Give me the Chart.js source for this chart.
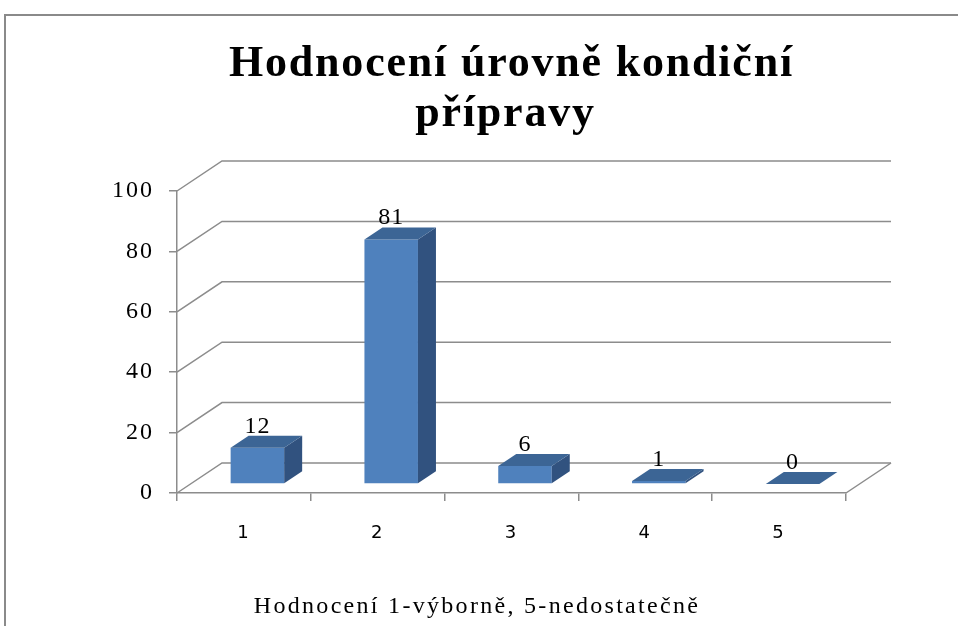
<!DOCTYPE html>
<html>
<head>
<meta charset="utf-8">
<script src="https://cdn.jsdelivr.net/npm/chart.js@4/dist/chart.umd.min.js"></script>
<style>
  html, body { margin: 0; padding: 0; background: #fff; }
  #wrap { position: relative; width: 958px; height: 626px; }
  #frame { position: absolute; left: 4px; top: 14px; width: 960px; height: 620px;
           border-left: 2px solid #8a8a8a; border-top: 2px solid #8a8a8a; }
  canvas { position: absolute; left: 0; top: 0; }
</style>
</head>
<body>
<div id="wrap">
  <div id="frame"></div>
  <canvas id="kondice" width="958" height="626"></canvas>
</div>
<script>
// data
const categories = ['1', '2', '3', '4', '5'];
const counts = [12, 81, 6, 1, 0];
const yTicks = [0, 20, 40, 60, 80, 100];

const chartTitle = ['Hodnocení úrovně kondiční', 'přípravy'];
const axisTitle = 'Hodnocení 1-výborně, 5-nedostatečně';

// 3D look (Excel style)
const depth = { dx: 45, dy: -30 };      // floor / back wall offset
const barFront = 0.3, barBack = 0.7;     // bar position within depth
const gridGray = '#8c8c8c';
const frontBlue = '#4f81bd', topBlue = '#3c6595', sideBlue = '#31527f';

const serif = '"Liberation Serif", "Times New Roman", serif';

const wallsPlugin = {
  id: 'walls',
  beforeDraw(chart) {
    // Excel text here is a bit spaced out
    chart.ctx.letterSpacing = '2px';
  },
  beforeDatasetsDraw(chart) {
    const { ctx, chartArea: a, scales: { y } } = chart;
    ctx.save();
    ctx.strokeStyle = gridGray;
    ctx.lineWidth = 1.5;
    // diagonal + back wall lines for each tick
    yTicks.forEach(v => {
      const py = y.getPixelForValue(v);
      ctx.beginPath();
      ctx.moveTo(a.left, py);
      ctx.lineTo(a.left + depth.dx, py + depth.dy);
      ctx.lineTo(a.right + depth.dx, py + depth.dy);
      ctx.stroke();
    });
    // floor right edge
    const by = y.getPixelForValue(0);
    ctx.beginPath();
    ctx.moveTo(a.right, by);
    ctx.lineTo(a.right + depth.dx, by + depth.dy);
    ctx.stroke();
    ctx.restore();

    // shift bar fronts into the depth
    ctx.save();
    ctx.translate(depth.dx * barFront, depth.dy * barFront);
  },
  afterDatasetsDraw(chart) {
    const { ctx } = chart;
    ctx.restore();
    const ox = depth.dx * barFront, oy = depth.dy * barFront;
    const bx = depth.dx * (barBack - barFront), byy = depth.dy * (barBack - barFront);
    const meta = chart.getDatasetMeta(0);
    ctx.save();
    meta.data.forEach((bar, i) => {
      const { x, y, base, width } = bar.getProps(['x', 'y', 'base', 'width'], true);
      const l = x - width / 2 + ox, r = x + width / 2 + ox;
      const t = y + oy, b = base + oy;
      // side
      ctx.fillStyle = sideBlue;
      ctx.beginPath();
      ctx.moveTo(r, t);
      ctx.lineTo(r + bx, t + byy);
      ctx.lineTo(r + bx, b + byy);
      ctx.lineTo(r, b);
      ctx.closePath();
      ctx.fill();
      // top
      ctx.fillStyle = topBlue;
      ctx.beginPath();
      ctx.moveTo(l, t);
      ctx.lineTo(r, t);
      ctx.lineTo(r + bx, t + byy);
      ctx.lineTo(l + bx, t + byy);
      ctx.closePath();
      ctx.fill();
      // value label
      ctx.fillStyle = '#000';
      ctx.font = '24px ' + serif;
      ctx.letterSpacing = '1px';
      ctx.textAlign = 'center';
      ctx.textBaseline = 'alphabetic';
      ctx.fillText(String(counts[i]), l + width / 2, t + byy - 3);
    });
    ctx.restore();
  },
  afterDraw(chart) {
    const { ctx, chartArea: a } = chart;
    ctx.save();
    ctx.fillStyle = '#000';
    ctx.textAlign = 'center';
    ctx.textBaseline = 'alphabetic';
    // chart title, two lines
    ctx.font = 'bold 44px ' + serif;
    ctx.letterSpacing = '1.8px';
    const cx = (a.left + a.right) / 2;
    ctx.fillText(chartTitle[0], cx, 76);
    ctx.fillText(chartTitle[1], cx - 6, 126);
    // category axis title
    ctx.font = '24px ' + serif;
    ctx.letterSpacing = '2.3px';
    ctx.fillText(axisTitle, 477, 613);
    ctx.restore();
  }
};

new Chart(document.getElementById('kondice'), {
  type: 'bar',
  data: {
    labels: categories,
    datasets: [{
      data: counts,
      backgroundColor: frontBlue,
      borderWidth: 0,
      barPercentage: 0.5,
      categoryPercentage: 0.8
    }]
  },
  options: {
    responsive: false,
    animation: false,
    layout: { padding: { left: 0, right: 112, top: 191, bottom: 0 } },
    plugins: {
      legend: { display: false },
      tooltip: { enabled: false }
    },
    scales: {
      x: {
        grid: { drawOnChartArea: false, color: gridGray, lineWidth: 1.5, tickLength: 8 },
        border: { color: gridGray, width: 1.5 },
        ticks: { color: '#000', padding: 22, font: { family: '"DejaVu Sans", sans-serif', size: 18 } },
        afterFit(scale) { scale.height = 133; }
      },
      y: {
        min: 0,
        max: 100,
        afterBuildTicks(scale) { scale.ticks = yTicks.map(v => ({ value: v })); },
        grid: { drawOnChartArea: false, color: gridGray, lineWidth: 1.5, tickLength: 8 },
        border: { color: gridGray, width: 1.5 },
        ticks: { color: '#000', padding: 15, font: { family: serif, size: 24 } },
        afterFit(scale) { scale.width = 177; }
      }
    }
  },
  plugins: [wallsPlugin]
});
</script>
</body>
</html>
